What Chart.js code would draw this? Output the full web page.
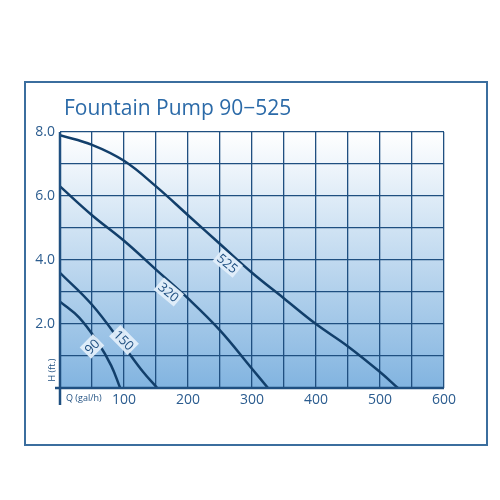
<!DOCTYPE html>
<html><head><script src="https://cdn.jsdelivr.net/npm/chart.js@4"></script>
<style>body{margin:0;background:#fff}#w{width:500px;height:500px}</style></head>
<body><div id="w"><canvas id="c"></canvas></div>
<script>
const title = "Fountain Pump 90\u2212525";
const curve525 = [[0,7.9],[50,7.6],[100,7.1],[150,6.3],[200,5.4],[250,4.5],[300,3.6],[350,2.8],[400,2.0],[450,1.3],[500,0.5],[528,0]];
const curve320 = [[0,6.3],[50,5.4],[100,4.6],[150,3.7],[200,2.8],[250,1.8],[300,0.6],[325,0]];
const curve150 = [[0,3.6],[50,2.6],[100,1.3],[130,0.5],[152,0]];
const curve90 = [[0,2.7],[30,2.2],[60,1.4],[80,0.7],[94,0]];
const curveLabels = [["525",262,3.9,40],["320",170,3.0,40],["150",100,1.5,45],["90",50,1.3,-45]];
const xTicks = [100,200,300,400,500,600];
const yTicks = [2,4,6,8];
const dark = '#1f4f80';
const ds = (d)=>({data:d.map(p=>({x:p[0],y:p[1]})),borderColor:'#123f6b',borderWidth:2.5,pointRadius:0,tension:0.4,fill:false});
const deco = {id:'deco',
 beforeDraw(c){const {ctx,chartArea:a}=c;ctx.save();
  const g=ctx.createLinearGradient(0,a.top,0,a.bottom);g.addColorStop(0,'#ffffff');g.addColorStop(1,'#82b4e0');
  ctx.fillStyle=g;ctx.fillRect(a.left,a.top,a.right-a.left,a.bottom-a.top);
  ctx.strokeStyle='#3b6e9e';ctx.lineWidth=2;ctx.strokeRect(25,82,462,363);
  ctx.fillStyle='#2b6aa8';ctx.font='21px "Open Sans"';ctx.textBaseline='middle';ctx.fillText(title,64,109);
  ctx.restore();},
 afterDraw(c){const {ctx,scales:{x,y},chartArea:a}=c;ctx.save();
  ctx.strokeStyle=dark;ctx.lineWidth=2.5;ctx.beginPath();ctx.moveTo(a.left,a.top);ctx.lineTo(a.left,a.bottom+17);ctx.moveTo(a.left-5,a.bottom);ctx.lineTo(a.right,a.bottom);ctx.stroke();
  ctx.fillStyle=dark;ctx.font='9px "Open Sans"';ctx.textBaseline='middle';ctx.fillText('Q (gal/h)',a.left+6,a.bottom+10);
  ctx.save();ctx.translate(a.left-8,a.bottom-18);ctx.rotate(-Math.PI/2);ctx.textAlign='center';ctx.fillText('H (ft.)',0,0);ctx.restore();
  ctx.font='13px "Open Sans"';ctx.textAlign='center';
  for(const [t,xv,yv,r] of curveLabels){ctx.save();ctx.translate(x.getPixelForValue(xv),y.getPixelForValue(yv));ctx.rotate(r*Math.PI/180);
   const w=ctx.measureText(t).width+4;ctx.fillStyle='rgba(225,238,250,0.95)';ctx.fillRect(-w/2,-8,w,16);ctx.fillStyle=dark;ctx.fillText(t,0,1);ctx.restore();}
  ctx.restore();}};
new Chart(document.getElementById('c'),{type:'line',
 data:{datasets:[ds(curve525),ds(curve320),ds(curve150),ds(curve90)]},
 options:{responsive:true,maintainAspectRatio:false,animation:false,
  layout:{padding:{top:132,right:56,bottom:82,left:0}},
  plugins:{legend:{display:false},tooltip:{enabled:false}},
  scales:{
   x:{type:'linear',min:0,max:600,afterFit(s){s.height=30;},border:{display:false},
    afterBuildTicks(s){s.ticks=[0,50,100,150,200,250,300,350,400,450,500,550,600].map(v=>({value:v}));},
    grid:{color:dark,lineWidth:1.3,drawTicks:false},
    ticks:{color:'#2b5c8f',font:{size:14,family:'"Open Sans"'},padding:4,maxRotation:0,autoSkip:false,callback:v=>xTicks.includes(v)?String(v):''}},
   y:{min:0,max:8,afterFit(s){s.width=60;},border:{display:false},
    afterBuildTicks(s){s.ticks=[0,1,2,3,4,5,6,7,8].map(v=>({value:v}));},
    grid:{color:dark,lineWidth:1.3,drawTicks:false},
    ticks:{color:'#2b5c8f',font:{size:14,family:'"Open Sans"'},padding:5,autoSkip:false,callback:v=>yTicks.includes(v)?v.toFixed(1):''}}}},
 plugins:[deco]});
</script></body></html>
